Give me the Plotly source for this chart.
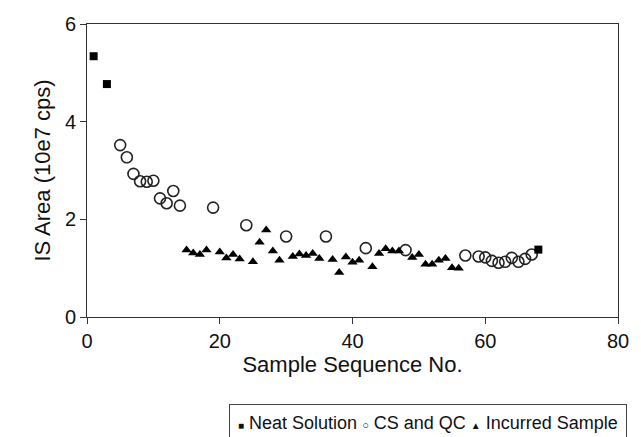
import plotly.graph_objects as go

# Neat Solution
neat_x = [1, 3, 68]
neat_y = [5.34, 4.77, 1.38]

# CS and QC
csqc_x = [5, 6, 7, 8, 9, 10, 11, 12, 13, 14, 19, 24, 30, 36, 42, 48,
          57, 59, 60, 61, 62, 63, 64, 65, 66, 67]
csqc_y = [3.52, 3.27, 2.93, 2.78, 2.77, 2.79, 2.43, 2.33, 2.58, 2.28, 2.24,
          1.88, 1.65, 1.65, 1.41, 1.37,
          1.26, 1.24, 1.22, 1.15, 1.11, 1.13, 1.21, 1.13, 1.19, 1.28]

# Incurred Sample
inc_x = [15, 16, 17, 18, 20, 21, 22, 23, 25, 26, 27, 28, 29,
         31, 32, 33, 34, 35, 37, 38, 39, 40, 41, 43, 44, 45, 46, 47,
         49, 50, 51, 52, 53, 54, 55, 56]
inc_y = [1.37, 1.31, 1.28, 1.37, 1.33, 1.21, 1.28, 1.19, 1.13, 1.53, 1.78, 1.35, 1.16,
         1.24, 1.29, 1.26, 1.30, 1.20, 1.18, 0.91, 1.23, 1.12, 1.16, 1.03, 1.30, 1.40, 1.35, 1.35,
         1.22, 1.28, 1.08, 1.08, 1.16, 1.20, 1.01, 1.00]

x_ticks = [0, 20, 40, 60, 80]
y_ticks = [0, 2, 4, 6]

FONT = "Liberation Sans, Arial, sans-serif"

fig = go.Figure()
fig.add_trace(go.Scatter(x=csqc_x, y=csqc_y, mode="markers", name="CS and QC",
                         marker=dict(symbol="circle-open", size=11, color="#222",
                                     line=dict(width=1.6, color="#222")),
                         showlegend=False))
fig.add_trace(go.Scatter(x=inc_x, y=inc_y, mode="markers", name="Incurred Sample",
                         marker=dict(symbol="triangle-up", size=9, color="#000"),
                         showlegend=False))
fig.add_trace(go.Scatter(x=neat_x, y=neat_y, mode="markers", name="Neat Solution",
                         marker=dict(symbol="square", size=8, color="#000"),
                         showlegend=False))

axis_common = dict(showline=True, linecolor="#333", linewidth=1, mirror=True,
                   ticks="outside", ticklen=6, tickcolor="#333", showgrid=False,
                   zeroline=False, tickfont=dict(family=FONT, size=20, color="#111"))

fig.update_xaxes(range=[0, 80], tickvals=x_ticks,
                 title=dict(text="Sample Sequence No.", font=dict(family=FONT, size=22, color="#111"),
                            standoff=0),
                 **axis_common)
fig.update_yaxes(range=[0, 6], tickvals=y_ticks,
                 title=dict(text="IS Area (10e7 cps)", font=dict(family=FONT, size=22, color="#111"),
                            standoff=8),
                 **axis_common)

legend_text = ("<span style='font-size:10px'>■</span> Neat Solution "
               "<span style='font-size:11px'>○</span> CS and QC "
               "<span style='font-size:10px'>▲</span> Incurred Sample")
fig.add_annotation(text=legend_text, xref="paper", yref="paper", x=1.0166, y=-0.297,
                   xanchor="right", yanchor="top", showarrow=False,
                   font=dict(family=FONT, size=18, color="#111"),
                   bordercolor="#444", borderwidth=1, borderpad=8, bgcolor="white")

fig.update_layout(width=641, height=437, margin=dict(l=87, r=12, t=24, b=120),
                  plot_bgcolor="white", paper_bgcolor="white",
                  font=dict(family=FONT))

fig.write_html("out.html")
